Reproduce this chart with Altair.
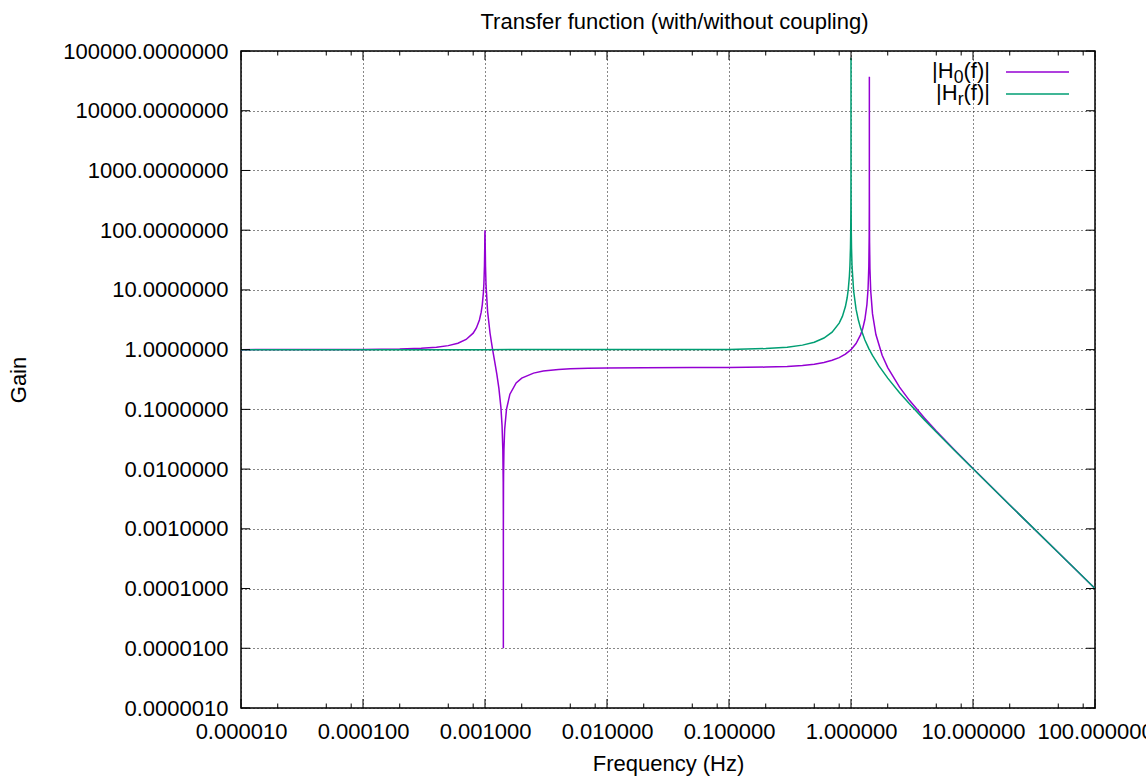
import altair as alt
import pandas as pd

# ---------------- data ----------------
# |H_r(f)| (green)
f_r = [1e-5, 1e-3, 0.1, 0.2, 0.3, 0.4, 0.5, 0.6, 0.7, 0.8, 0.85, 0.9, 0.93, 0.95,
       0.97, 0.98, 0.99, 0.995, 0.998, 0.999, 0.9995, 0.9999, 0.99999, 1.0,
       1.00001, 1.0001, 1.0005, 1.001, 1.002, 1.005, 1.01, 1.02, 1.05, 1.1, 1.15,
       1.2, 1.3, 1.4, 1.5, 1.7, 2.0, 2.5, 3.0, 4.0, 5.0, 7.0, 10.0, 20.0, 50.0, 100.0]
g_r = [1.0, 1.0, 1.01, 1.042, 1.099, 1.19, 1.333, 1.5625, 1.96, 2.78, 3.60, 5.26, 7.39, 10.26,
       16.9, 25.25, 50.25, 100.25, 250.3, 500.3, 1000, 5000, 50000, 77000,
       50000, 5000, 1000, 500, 250, 100, 49.75, 24.75, 9.76, 4.76, 3.10,
       2.27, 1.45, 1.04, 0.80, 0.529, 0.333, 0.190, 0.125, 0.0667, 0.0417, 0.0208, 0.0101, 0.00251, 0.0004, 0.0001]

# |H_0(f)| (purple)
f_0 = [1e-5, 1e-4, 2e-4, 3e-4, 4e-4, 5e-4, 6e-4, 7e-4, 8e-4, 8.5e-4, 9e-4, 9.3e-4, 9.5e-4,
       9.7e-4, 9.8e-4, 9.9e-4, 9.95e-4, 9.97e-4, 1.0e-3, 1.002e-3, 1.005e-3, 1.01e-3, 1.02e-3,
       1.05e-3, 1.1e-3, 1.15e-3, 1.2e-3, 1.25e-3, 1.3e-3, 1.35e-3, 1.38e-3, 1.40e-3, 1.41e-3,
       1.413e-3, 1.414e-3, 1.41421e-3, 1.4145e-3, 1.415e-3, 1.418e-3, 1.42e-3, 1.43e-3, 1.45e-3,
       1.5e-3, 1.6e-3, 1.8e-3, 2e-3, 2.5e-3, 3e-3, 4e-3, 5e-3, 7e-3, 0.01, 0.02, 0.05, 0.1,
       0.2, 0.3, 0.4, 0.5, 0.6, 0.7, 0.8, 0.9, 1.0, 1.1, 1.2, 1.25, 1.3, 1.35, 1.38, 1.40,
       1.41, 1.413, 1.414, 1.4142, 1.41421, 1.4143, 1.4145, 1.415, 1.418, 1.42, 1.43, 1.45,
       1.5, 1.6, 1.8, 2.0, 2.5, 3.0, 4.0, 5.0, 7.0, 10.0, 20.0, 50.0, 100.0]
g_0 = [1.0, 1.005, 1.021, 1.050, 1.095, 1.167, 1.281, 1.480, 1.889, 2.302, 3.132, 4.20, 5.63,
       8.96, 13.1, 25.6, 50.6, 84.0, 100.0, 78.0, 49.4, 24.4, 11.9,
       4.38, 1.881, 1.050, 0.636, 0.389, 0.2246, 0.1079, 0.0529, 0.0208, 0.00602,
       0.00172, 0.000302, 0.00001, 0.000405, 0.00111, 0.00531, 0.00807, 0.0215, 0.0465,
       0.1, 0.1795, 0.2768, 0.3333, 0.4048, 0.4375, 0.4667, 0.4792, 0.4896, 0.4949, 0.4988, 0.5006, 0.5025,
       0.5102, 0.5236, 0.5435, 0.5714, 0.6098, 0.6623, 0.7353, 0.8403, 1.0, 1.266, 1.786, 2.286, 3.226, 5.634, 10.46, 25.0,
       84.0, 291.5, 1656, 25000, 37000, 4098, 1235, 449, 93.2, 61.0, 22.3, 9.76,
       4.0, 1.786, 0.806, 0.5, 0.2353, 0.1429, 0.0714, 0.0435, 0.0213, 0.0102, 0.00251, 0.0004, 0.0001]

# tick values
x_major = [1e-5, 1e-4, 1e-3, 1e-2, 1e-1, 1.0, 10.0, 100.0]
x_minor = [2e-5, 5e-5, 8e-5, 2e-4, 5e-4, 8e-4, 2e-3, 5e-3, 8e-3, 2e-2, 5e-2, 8e-2,
           0.2, 0.5, 0.8, 2.0, 5.0, 8.0, 20.0, 50.0, 80.0]
y_major = [1e-6, 1e-5, 1e-4, 1e-3, 1e-2, 1e-1, 1.0, 10.0, 100.0, 1000.0, 10000.0, 100000.0]

title_text = "Transfer function (with/without coupling)"
x_title = "Frequency (Hz)"
y_title = "Gain"

# ---------------- styling ----------------
FONT = "Liberation Sans"
FS = 22
W, H = 854, 657
C0 = "#9400d3"
CR = "#009e73"
GRID = "#111111"

xs = alt.Scale(type="log", domain=[1e-5, 100], nice=False)
ys = alt.Scale(type="log", domain=[1e-6, 1e5], nice=False)

x_axis = alt.Axis(values=x_major, format=".6f", labelFlush=False, labelOverlap=False,
                  grid=True, gridDash=[1, 3], gridColor=GRID, gridWidth=1,
                  ticks=False, domain=False, labelFont=FONT, labelFontSize=FS,
                  labelColor="black", labelPadding=13,
                  title=x_title, titleFont=FONT, titleFontSize=FS, titleFontWeight="normal",
                  titleColor="black", titleX=427, titleY=55, titleBaseline="middle",
                  titleAlign="center")
y_axis = alt.Axis(values=y_major, format=".7f", labelFlush=False, labelOverlap=False,
                  grid=True, gridDash=[1, 3], gridColor=GRID, gridWidth=1,
                  ticks=False, domain=False, labelFont=FONT, labelFontSize=FS,
                  labelColor="black", labelPadding=13,
                  title=y_title, titleFont=FONT, titleFontSize=FS, titleFontWeight="normal",
                  titleColor="black", titleX=-223, titleY=328.5, titleBaseline="middle",
                  titleAlign="center")

df0 = pd.DataFrame({"f": f_0, "g": g_0})
dfr = pd.DataFrame({"f": f_r, "g": g_r})

line0 = alt.Chart(df0).mark_line(color=C0, strokeWidth=1.5, clip=True).encode(
    x=alt.X("f:Q", scale=xs, axis=x_axis),
    y=alt.Y("g:Q", scale=ys, axis=y_axis),
)
liner = alt.Chart(dfr).mark_line(color=CR, strokeWidth=1.5, clip=True).encode(
    x=alt.X("f:Q", scale=xs, axis=x_axis),
    y=alt.Y("g:Q", scale=ys, axis=y_axis),
)

dxmaj = pd.DataFrame({"f": x_major})
dxmin = pd.DataFrame({"f": x_minor})
dymaj = pd.DataFrame({"g": y_major})


def xticks(d, y0, y1):
    return alt.Chart(d).mark_rule(color="black", strokeWidth=1).encode(
        x=alt.X("f:Q", scale=xs, axis=x_axis), y=alt.value(y0), y2=alt.value(y1))


def yticks(d, x0, x1):
    return alt.Chart(d).mark_rule(color="black", strokeWidth=1).encode(
        y=alt.Y("g:Q", scale=ys, axis=y_axis), x=alt.value(x0), x2=alt.value(x1))


ticks = [
    xticks(dxmaj, H, H - 9), xticks(dxmaj, 0, 9),
    xticks(dxmin, H, H - 4.5), xticks(dxmin, 0, 4.5),
    yticks(dymaj, 0, 9), yticks(dymaj, W, W - 9),
]

one = pd.DataFrame({"k": [0]})


def txt(s, x, y, size=FS, align="right"):
    return alt.Chart(one).mark_text(align=align, baseline="alphabetic", font=FONT,
                                    fontSize=size, color="black").encode(
        x=alt.value(x), y=alt.value(y), text=alt.value(s))


def seg(color, y):
    return alt.Chart(one).mark_rule(color=color, strokeWidth=1.5).encode(
        x=alt.value(765), x2=alt.value(828), y=alt.value(y))


SUB = 17.6
legend = [
    seg(C0, 21), seg(CR, 43),
    txt("(f)|", 749, 27), txt("0", 722.5, 32, SUB), txt("|H", 712.7, 27),
    txt("(f)|", 749, 49), txt("r", 722.5, 54, SUB), txt("|H", 716.6, 49),
]

title = txt(title_text, 433.5, -21.7, FS, "center")

chart = alt.layer(line0, liner, *ticks, *legend, title).properties(
    width=W, height=H,
    padding={"left": 241, "top": 51, "right": 51, "bottom": 68},
    autosize=alt.AutoSizeParams(type="none"),
    background="white",
).configure_view(stroke="black", strokeWidth=1.5)

chart.save("out.html", embed_options={"renderer": "svg", "actions": False})
